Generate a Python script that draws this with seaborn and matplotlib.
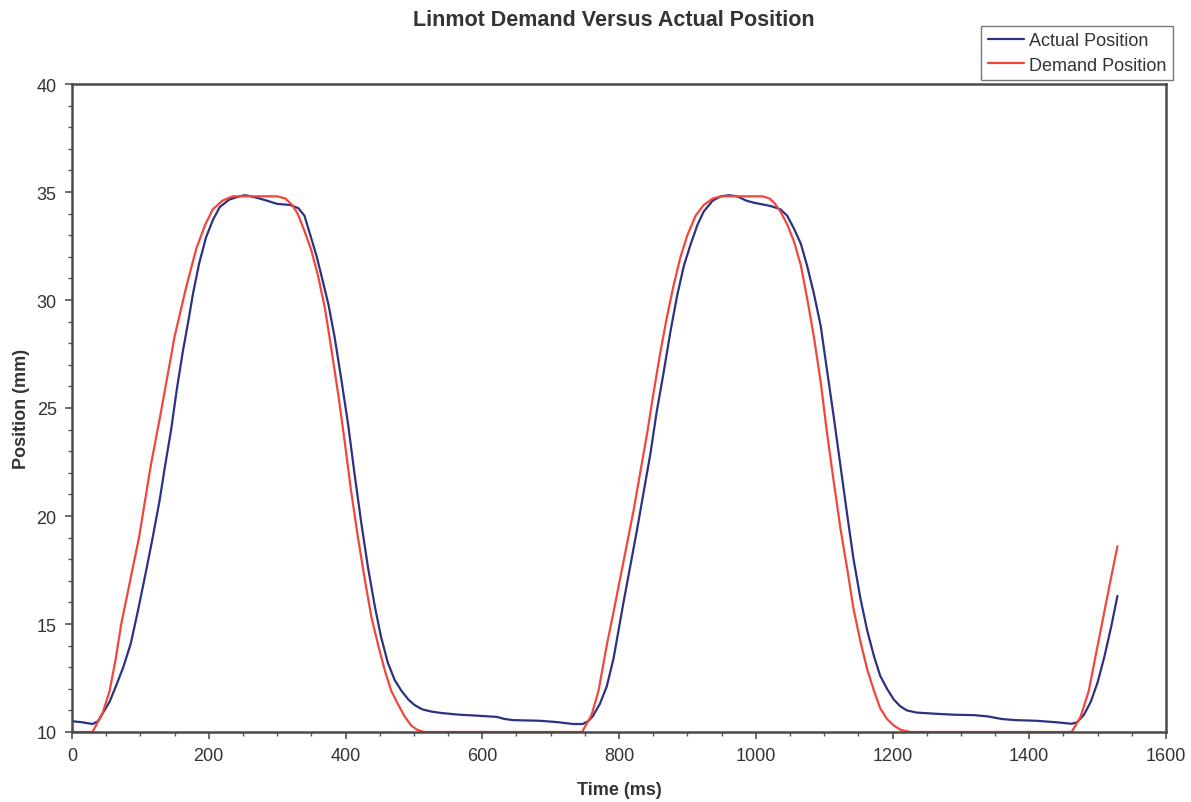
import matplotlib
matplotlib.use("Agg")
import matplotlib.pyplot as plt
from matplotlib.ticker import MultipleLocator
import seaborn as sns
import pandas as pd

# ---- data ----
demand_time = [0, 30, 45, 55, 64, 72, 85, 98, 115, 130, 150, 167, 182, 195, 206, 220, 235,
               300, 312, 322, 330, 340, 350, 360, 370, 379, 390, 399, 408, 418, 428,
               438, 448, 457, 467, 477, 487, 496, 505, 515,
               746, 760, 770, 782, 791, 801, 811, 821, 831, 841, 850, 860, 870, 880,
               890, 900, 912, 924, 937, 949,
               1010, 1020, 1027, 1036, 1046, 1056, 1066, 1075, 1085, 1095, 1104, 1114,
               1124, 1134, 1143, 1153, 1163, 1173, 1182, 1192, 1202, 1212, 1226,
               1462, 1475, 1487, 1500, 1510, 1520, 1529]
demand_pos = [10.0, 10.0, 10.9, 11.9, 13.4, 15.0, 17.0, 19.0, 22.3, 24.8, 28.3, 30.6, 32.4, 33.5, 34.2, 34.6, 34.8,
              34.8, 34.7, 34.4, 34.0, 33.2, 32.3, 31.1, 29.6, 27.8, 25.5, 23.4, 21.2, 19.05, 17.1,
              15.3, 14.0, 12.9, 11.9, 11.27, 10.7, 10.3, 10.1, 10.0,
              10.0, 10.8, 11.9, 14.0, 15.4, 17.0, 18.6, 20.2, 22.0, 23.8, 25.6, 27.5, 29.2, 30.7,
              32.0, 33.0, 33.9, 34.4, 34.7, 34.8,
              34.8, 34.7, 34.5, 34.1, 33.5, 32.7, 31.6, 30.1, 28.3, 26.2, 23.9, 21.6,
              19.4, 17.5, 15.7, 14.2, 12.9, 11.9, 11.1, 10.6, 10.3, 10.1, 10.0,
              10.0, 10.7, 11.9, 14.0, 15.6, 17.2, 18.6]

actual_time = [0, 15, 30, 38, 45, 55, 64, 75, 86, 97, 108, 118, 128, 136, 145, 153, 162,
               170, 177, 186, 196, 206, 216, 230, 245, 253, 262, 274, 285, 300, 319, 331,
               340, 350, 358, 365, 375, 384, 394, 404, 413, 423, 433, 443, 452, 462, 472,
               482, 492, 501, 512, 525, 540, 567, 596, 621, 633, 645, 684, 709, 733, 747,
               755, 762, 772, 782, 792, 806, 816, 826, 836, 846, 855, 865, 875, 885, 895,
               905, 915, 924, 937, 949, 961, 973, 986, 998, 1022, 1036, 1046, 1056, 1066,
               1075, 1085, 1095, 1104, 1114, 1124, 1134, 1143, 1153, 1163, 1173, 1182,
               1192, 1202, 1211, 1221, 1235, 1260, 1290, 1320, 1340, 1360, 1380, 1410,
               1440, 1462, 1470, 1480, 1490, 1500, 1510, 1520, 1529]
actual_pos = [10.5, 10.45, 10.37, 10.5, 10.87, 11.4, 12.1, 13.0, 14.1, 15.7, 17.4, 19.0, 20.7, 22.3, 24.0, 25.8, 27.6,
              29.0, 30.3, 31.7, 32.9, 33.7, 34.3, 34.65, 34.8, 34.85, 34.8, 34.7, 34.6, 34.45, 34.4, 34.25,
              33.9, 32.85, 32.0, 31.1, 29.8, 28.3, 26.3, 24.2, 22.0, 19.7, 17.6, 15.8, 14.4, 13.2, 12.4,
              11.9, 11.5, 11.25, 11.05, 10.95, 10.88, 10.8, 10.75, 10.7, 10.6, 10.55, 10.52, 10.46, 10.37, 10.37,
              10.5, 10.75, 11.3, 12.1, 13.4, 15.9, 17.6, 19.3, 21.1, 22.9, 24.8, 26.6, 28.5, 30.2, 31.6,
              32.6, 33.5, 34.1, 34.6, 34.8, 34.85, 34.8, 34.6, 34.5, 34.35, 34.2, 33.9, 33.3, 32.6,
              31.6, 30.3, 28.8, 26.8, 24.6, 22.3, 20.0, 18.0, 16.2, 14.7, 13.5, 12.6,
              12.0, 11.5, 11.2, 11.0, 10.9, 10.85, 10.8, 10.78, 10.72, 10.6, 10.55, 10.52,
              10.45, 10.38, 10.45, 10.8, 11.4, 12.3, 13.5, 14.9, 16.3]

series_names = ["Actual Position", "Demand Position"]
series_colors = ["#2b3282", "#f2463c"]

x_ticks = [0, 200, 400, 600, 800, 1000, 1200, 1400, 1600]
y_ticks = [10, 15, 20, 25, 30, 35, 40]

# ---- build long-form table ----
df = pd.concat([
    pd.DataFrame({"Time (ms)": actual_time, "Position (mm)": actual_pos, "series": series_names[0]}),
    pd.DataFrame({"Time (ms)": demand_time, "Position (mm)": demand_pos, "series": series_names[1]}),
], ignore_index=True)

sns.set_style("white")
plt.rcParams["font.family"] = ["Liberation Sans", "DejaVu Sans"]

fig = plt.figure(figsize=(11.91, 8.03), dpi=100)
ax = fig.add_axes([72 / 1191, 1 - 733 / 803, (1166 - 72) / 1191, (733 - 85) / 803])

sns.lineplot(data=df, x="Time (ms)", y="Position (mm)", hue="series",
             hue_order=series_names, palette=series_colors, estimator=None,
             sort=False, linewidth=1.6, ax=ax, legend=False)

ax.set_xlim(0, 1600)
ax.set_ylim(10, 40)
ax.set_xticks(x_ticks)
ax.set_yticks(y_ticks)
ax.xaxis.set_minor_locator(MultipleLocator(50))
ax.yaxis.set_minor_locator(MultipleLocator(1))
ax.tick_params(axis="both", which="major", direction="out", length=5, width=1.2,
               color="#555555", labelsize=13, labelcolor="#333333", pad=6,
               bottom=True, left=True)
ax.tick_params(axis="both", which="minor", direction="out", length=3, width=1,
               color="#555555", bottom=True, left=True)
for s in ax.spines.values():
    s.set_color("#4a4a4a")
    s.set_linewidth(1.8)
    s.set_visible(True)

ax.set_xlabel("Time (ms)", fontsize=13, fontweight="bold", color="#333333", labelpad=12)
ax.set_ylabel("Position (mm)", fontsize=13, fontweight="bold", color="#333333", labelpad=5)
fig.text(614 / 1191, 1 - 20 / 803, "Linmot Demand Versus Actual Position",
         ha="center", va="center", fontsize=15.5, fontweight="bold", color="#333333")

handles = [plt.Line2D([], [], color=c, lw=1.6) for c in series_colors]
leg = fig.legend(handles, series_names, loc="upper right",
                 bbox_to_anchor=(1173 / 1191, 1 - 27 / 803), fancybox=False,
                 framealpha=1, edgecolor="#777777", fontsize=13, handlelength=2.0,
                 handletextpad=0.3, borderpad=0.35, labelspacing=0.4, borderaxespad=0)
for t in leg.get_texts():
    t.set_color("#333333")
leg.get_frame().set_linewidth(1.0)

fig.savefig("out.png", dpi=100)
